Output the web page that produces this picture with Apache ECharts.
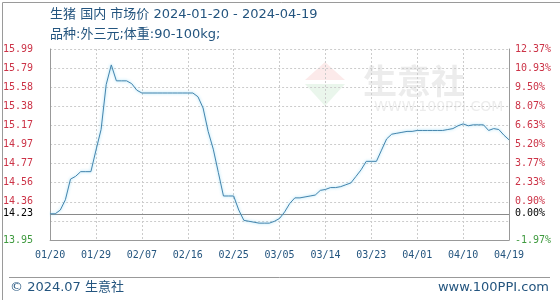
<!DOCTYPE html>
<html>
<head>
<meta charset="utf-8">
<script src="https://cdn.jsdelivr.net/npm/echarts@6/dist/echarts.min.js"></script>
<style>
html,body{margin:0;padding:0;background:#fff;}
#c{width:560px;height:300px;}
</style>
</head>
<body>
<div id="c"></div>
<script>
// ---- data ----
var startDate = '2024-01-20';
var prices = [
  14.23, 14.23, 14.27, 14.38, 14.60, 14.63, 14.68, 14.68, 14.68, 14.91,
  15.13, 15.61, 15.82, 15.65, 15.65, 15.65, 15.62, 15.55, 15.52, 15.52,
  15.52, 15.52, 15.52, 15.52, 15.52, 15.52, 15.52, 15.52, 15.52, 15.48,
  15.36, 15.11, 14.92, 14.67, 14.42, 14.42, 14.42, 14.27, 14.16, 14.15,
  14.14, 14.13, 14.13, 14.13, 14.15, 14.18, 14.25, 14.34, 14.40, 14.40,
  14.41, 14.42, 14.43, 14.48, 14.49, 14.51, 14.51, 14.52, 14.54, 14.56,
  14.63, 14.70, 14.79, 14.79, 14.79, 14.91, 15.03, 15.08, 15.09, 15.10,
  15.11, 15.11, 15.12, 15.12, 15.12, 15.12, 15.12, 15.12, 15.13, 15.14,
  15.17, 15.19, 15.17, 15.18, 15.18, 15.18, 15.12, 15.14, 15.13, 15.07,
  15.02
];
var basePrice = 14.23;
var axisMin = 13.95;
var axisStep = 0.204;
var leftTickLabels = ['13.95', '', '14.36', '14.56', '14.77', '14.97', '15.17', '15.38', '15.58', '15.79', '15.99'];
var rightTickLabels = ['-1.97%', '', '0.90%', '2.33%', '3.77%', '5.20%', '6.63%', '8.07%', '9.50%', '10.93%', '12.37%'];
var titleText = '生猪 国内 市场价 2024-01-20 - 2024-04-19';
var subTitleText = '品种:外三元;体重:90-100kg;';
var footerLeft = '© 2024.07 生意社';
var footerRight = 'www.100PPI.com';

// ---- build ----
function pad(n){return n<10?'0'+n:''+n;}
var dates = [];
(function(){
  var p = startDate.split('-');
  var d = new Date(Date.UTC(+p[0], +p[1]-1, +p[2]));
  for (var i = 0; i < prices.length; i++) {
    dates.push(pad(d.getUTCMonth()+1) + '/' + pad(d.getUTCDate()));
    d.setUTCDate(d.getUTCDate()+1);
  }
})();
function toAxis(v){ return (v - axisMin) / axisStep; }
var seriesData = prices.map(toAxis);

var RED = '#cc3347', GREEN = '#3f9a3f', BLUE = '#24557f';
var MONO = '"DejaVu Sans Mono", monospace';
var TXT = '13px "DejaVu Sans", "Noto Sans CJK SC", sans-serif';
var chart = echarts.init(document.getElementById('c'), null, {renderer:'canvas'});

chart.setOption({
  animation: false,
  backgroundColor: '#fff',
  grid: { left: 50, right: 51, top: 49, bottom: 60, containLabel: false },
  xAxis: {
    type: 'category',
    data: dates,
    boundaryGap: false,
    axisLine: { lineStyle: { color: '#999', width: 1 } },
    axisTick: { show: false },
    axisLabel: { interval: 8, color: BLUE, fontFamily: MONO, fontSize: 10, margin: 10, showMaxLabel: true },
    splitLine: { show: true, interval: 8, lineStyle: { color: '#ccc', type: [2, 2], width: 1 } }
  },
  yAxis: [{
    type: 'value', min: 0, max: 10, interval: 1, position: 'left',
    axisLine: { show: true, lineStyle: { color: '#999' } },
    axisTick: { show: false },
    splitLine: { show: true, lineStyle: { color: '#ccc', type: [2, 2] } },
    axisLabel: {
      margin: 17, fontFamily: MONO, fontSize: 10,
      formatter: function(v){ return leftTickLabels[Math.round(v)] || ''; },
      color: function(v){ return Math.round(v) === 0 ? GREEN : RED; }
    }
  }, {
    type: 'value', min: 0, max: 10, interval: 1, position: 'right',
    axisLine: { show: true, lineStyle: { color: '#999' } },
    axisTick: { show: false },
    splitLine: { show: false },
    axisLabel: {
      margin: 6, fontFamily: MONO, fontSize: 10,
      formatter: function(v){ return rightTickLabels[Math.round(v)] || ''; },
      color: function(v){ return Math.round(v) === 0 ? GREEN : RED; }
    }
  }],
  graphic: [
    { type: 'rect', left: 0, top: 0, shape: { width: 559, height: 299 }, style: { fill: 'none', stroke: '#9a9a9a', lineWidth: 1 }, silent: true, z: 100 },
    { type: 'text', left: 50, top: 8, style: { text: titleText, fill: BLUE, font: TXT } },
    { type: 'text', left: 50, top: 28, style: { text: subTitleText, fill: BLUE, font: TXT } },
    { type: 'line', shape: { x1: 9, y1: 277.5, x2: 550, y2: 277.5 }, style: { stroke: '#999', lineWidth: 1 } },
    { type: 'text', left: 10, top: 281, style: { text: footerLeft, fill: BLUE, font: TXT } },
    { type: 'text', right: 11, top: 281, style: { text: footerRight, fill: BLUE, font: TXT } },
    // watermark
    { type: 'polygon', shape: { points: [[325,62],[345,80],[305,80]] }, style: { fill: 'rgba(230,80,80,0.12)' }, silent: true },
    { type: 'polygon', shape: { points: [[305,84],[345,84],[325,106]] }, style: { fill: 'rgba(80,180,100,0.12)' }, silent: true },
    { type: 'text', left: 363, top: 64, style: { text: '生意社', fill: 'rgba(150,150,150,0.18)', font: 'bold 34px "Noto Sans CJK SC", sans-serif' }, silent: true },
    { type: 'text', left: 374, top: 100, style: { text: 'WWW.100PPI.COM', fill: 'rgba(150,150,150,0.18)', font: '14px "DejaVu Sans", sans-serif' }, silent: true }
  ],
  series: [{
    type: 'line',
    data: seriesData,
    yAxisIndex: 0,
    symbol: 'none',
    smooth: false,
    lineStyle: { color: '#4585ad', width: 1, shadowColor: 'rgba(120,210,245,0.9)', shadowBlur: 3 },
    z: 5,
    markLine: {
      silent: true,
      symbol: 'none',
      animation: false,
      lineStyle: { color: '#8a8a8a', type: 'solid', width: 1 },
      data: [
        { yAxis: toAxis(basePrice), label: { position: 'start', distance: 17, formatter: String(basePrice.toFixed(2)), color: '#000', fontFamily: MONO, fontSize: 10 } },
        { yAxis: toAxis(basePrice), label: { position: 'end', distance: 6, formatter: '0.00%', color: '#000', fontFamily: MONO, fontSize: 10 } }
      ]
    }
  }]
});
</script>
</body>
</html>
